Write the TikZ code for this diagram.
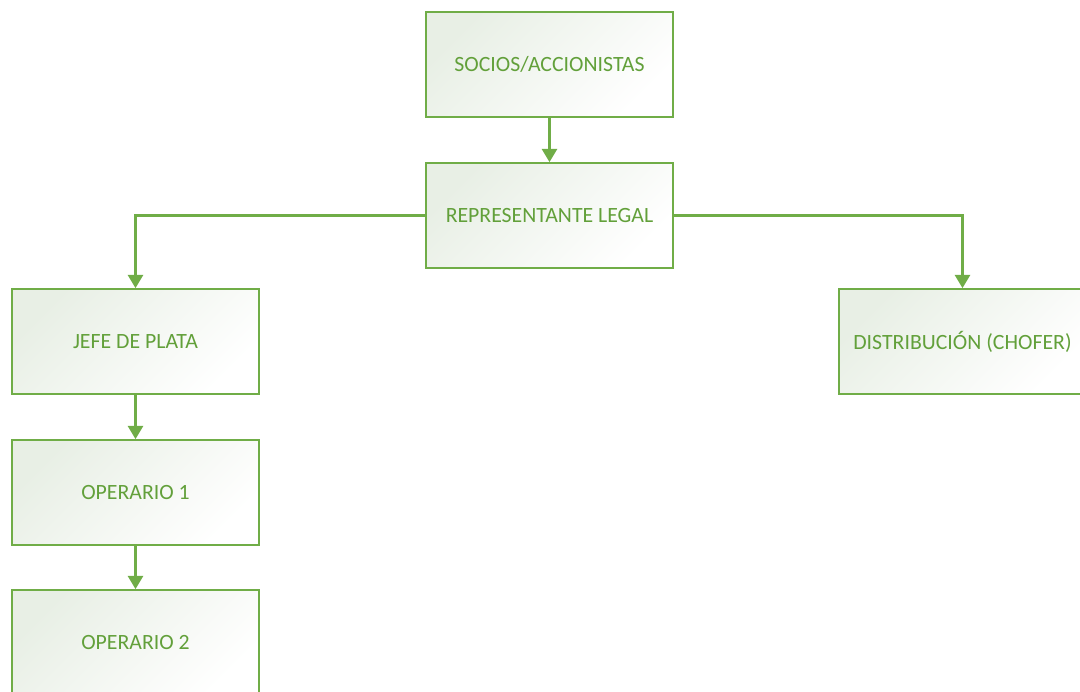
\documentclass[tikz,border=0pt]{standalone}
\usepackage{fontspec}
\setmainfont{Carlito}
\usepackage{tikz}
\usetikzlibrary{arrows.meta}

\definecolor{orggreen}{HTML}{70AD47}
\definecolor{orgtext}{HTML}{62A03A}
\definecolor{orgshade}{HTML}{E8EFE5}

\begin{document}
\begin{tikzpicture}[x=0.02cm, y=0.02cm, font=\fontsize{12.4}{14}\selectfont,
    orgbox/.style={draw=orggreen, line width=1pt, text=orgtext,
      minimum width=4.94cm, minimum height=2.1cm, inner sep=0pt,
      top color=orgshade, bottom color=white, shading angle=45},
    orgline/.style={draw=orggreen, line width=1.5pt,
      -{Triangle[length=7.5pt, width=8.5pt]}}]
    % page and clip
    \useasboundingbox (0,0) rectangle (1080,691);
    \clip (0,0) rectangle (1080,691);
    % boxes
    \node[orgbox] (socios) at (549.5,626.5) {SOCIOS/ACCIONISTAS};
    \node[orgbox] (repr) at (549.5,475.5) {REPRESENTANTE LEGAL};
    \node[orgbox] (jefe) at (135.5,349.5) {JEFE DE PLATA};
    \node[orgbox] (dist) at (962.5,349.5) {DISTRIBUCIÓN (CHOFER)};
    \node[orgbox] (op1) at (135.5,198.5) {OPERARIO 1};
    \node[orgbox] (op2) at (135.5,48.5) {OPERARIO 2};
    % connectors
    \draw[orgline] (socios) -- (repr);
    \draw[orgline] (repr.west) -| (jefe.north);
    \draw[orgline] (repr.east) -| (dist.north);
    \draw[orgline] (jefe) -- (op1);
    \draw[orgline] (op1) -- (op2);
\end{tikzpicture}
\end{document}
